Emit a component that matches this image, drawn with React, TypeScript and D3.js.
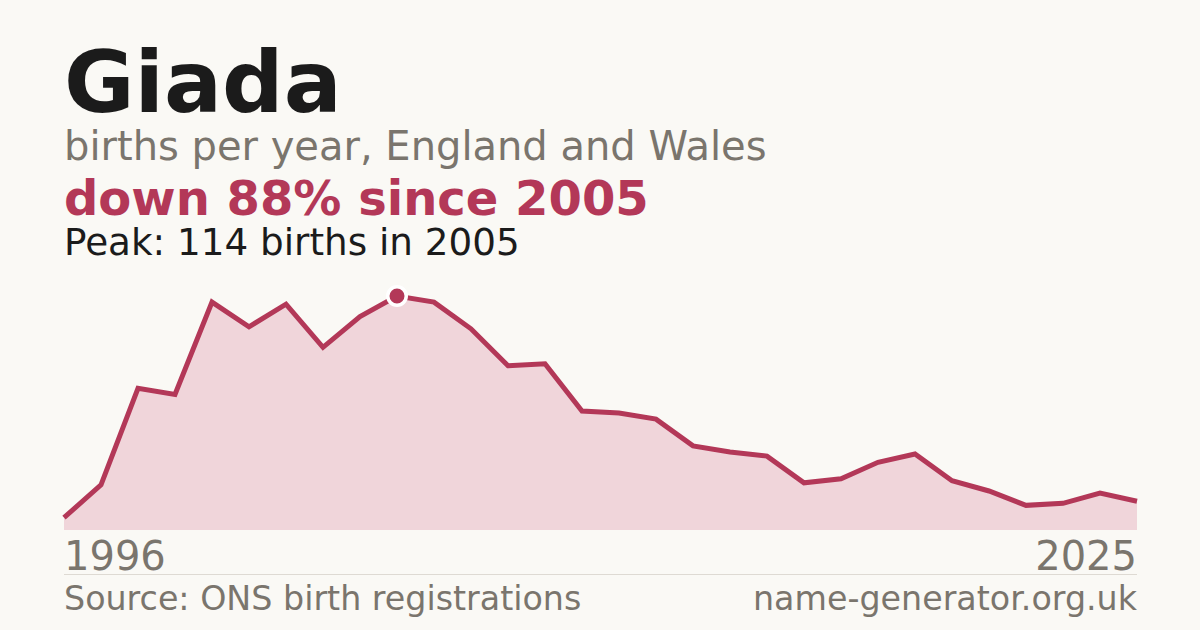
import React from "react";
import * as d3 from "d3";

const years: number[] = [
  1996, 1997, 1998, 1999, 2000, 2001, 2002, 2003, 2004, 2005,
  2006, 2007, 2008, 2009, 2010, 2011, 2012, 2013, 2014, 2015,
  2016, 2017, 2018, 2019, 2020, 2021, 2022, 2023, 2024, 2025,
];
const births: number[] = [
  6, 22, 69, 66, 111, 99, 110, 89, 104, 114,
  111, 98, 80, 81, 58, 57, 54, 41, 38, 36,
  23, 25, 33, 37, 24, 19, 12, 13, 18, 14,
];
const nameLabel = "Giada";
const subtitle = "births per year, England and Wales";
const changeText = "down 88% since 2005";
const peakText = "Peak: 114 births in 2005";
const sourceText = "Source: ONS birth registrations";
const siteText = "name-generator.org.uk";

const W = 1200;
const H = 630;
const FONT = "'DejaVu Sans', Verdana, sans-serif";
const RED = "#b33858";
const GREY = "#7a756d";

export default function App() {
  const x = d3.scaleLinear().domain([years[0], years[years.length - 1]]).range([64, 1137]);
  const maxV = d3.max(births) as number;
  const y = d3.scaleLinear().domain([0, maxV]).range([530, 296]);
  const data = years.map((yr, i) => ({ yr, v: births[i] }));
  const line = d3.line<{ yr: number; v: number }>().x((d) => x(d.yr)).y((d) => y(d.v));
  const area = d3
    .area<{ yr: number; v: number }>()
    .x((d) => x(d.yr))
    .y0(y(0))
    .y1((d) => y(d.v));
  const peakIdx = births.indexOf(maxV);
  const peak = data[peakIdx];

  return (
    <svg
      width={W}
      height={H}
      viewBox={`0 0 ${W} ${H}`}
      style={{ position: "absolute", left: 0, top: 0, display: "block" }}
    >
      <rect x={0} y={0} width={W} height={H} fill="#faf9f5" />
      <text x={64} y={112} fontFamily={FONT} fontWeight="bold" fontSize={86} fill="#1b1b1b">
        {nameLabel}
      </text>
      <text x={64} y={160} fontFamily={FONT} fontSize={40} fill={GREY}>
        {subtitle}
      </text>
      <text x={64} y={215} fontFamily={FONT} fontWeight="bold" fontSize={48} fill={RED}>
        {changeText}
      </text>
      <text x={64} y={255} fontFamily={FONT} fontSize={37.3} fill="#1b1b1b">
        {peakText}
      </text>

      <path d={area(data) || ""} fill="#f0d5da" />
      <path
        d={line(data) || ""}
        fill="none"
        stroke={RED}
        strokeWidth={5}
        strokeLinejoin="miter"
      />
      <circle cx={x(peak.yr)} cy={y(peak.v)} r={9.25} fill={RED} stroke="#ffffff" strokeWidth={3.5} />

      <text x={64} y={570} fontFamily={FONT} fontSize={40} fill={GREY}>
        {String(years[0])}
      </text>
      <text x={1137} y={570} fontFamily={FONT} fontSize={40} fill={GREY} textAnchor="end">
        {String(years[years.length - 1])}
      </text>
      <line x1={64} x2={1137} y1={574.5} y2={574.5} stroke="#dedad3" strokeWidth={1} />
      <text x={64} y={610} fontFamily={FONT} fontSize={33.3} fill={GREY}>
        {sourceText}
      </text>
      <text x={1137} y={610} fontFamily={FONT} fontSize={33.3} fill={GREY} textAnchor="end">
        {siteText}
      </text>
    </svg>
  );
}
